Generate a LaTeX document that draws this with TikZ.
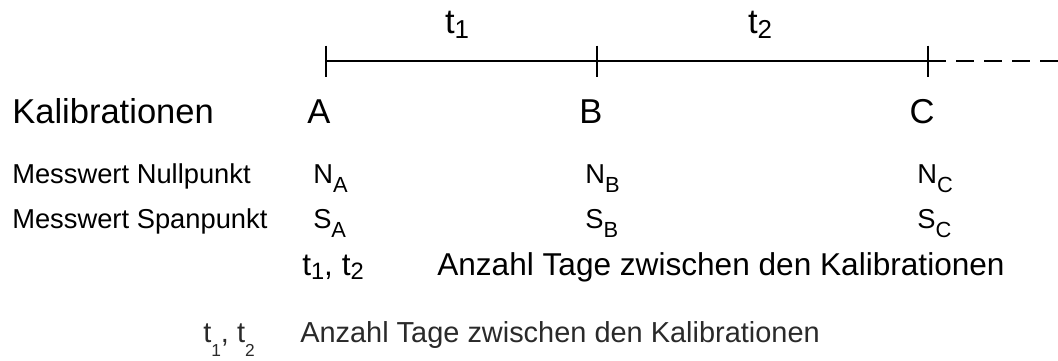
\documentclass[tikz,border=0pt]{standalone}
\usepackage{fontspec}
\setmainfont{Liberation Sans}
\usepackage{graphicx}
\usetikzlibrary{positioning}
\definecolor{inkgray}{HTML}{2A2A2A}
\newcommand{\subidx}[1]{\raisebox{-0.33em}{\scalebox{0.8}{#1}}}
\newcommand{\tidx}[1]{\raisebox{-0.15em}{\scalebox{0.75}{#1}}}
\newcommand{\lowidx}[1]{\raisebox{-0.5em}{\scalebox{0.6}{#1}}}
\tikzset{
  bigtext/.style={font=\fontsize{25.9}{31}\selectfont,inner sep=0pt,anchor=base},
  rowtext/.style={font=\fontsize{20.5}{25}\selectfont,inner sep=0pt,anchor=base west},
  notetext/.style={font=\fontsize{23.7}{28}\selectfont,inner sep=0pt,anchor=base west},
  foottext/.style={font=\fontsize{21.7}{26}\selectfont,inner sep=0pt,anchor=base west,text=inkgray},
  timeline/.style={draw=black,line width=2pt},
  futureline/.style={timeline,dash pattern=on 13.5pt off 7.5pt}
}
\begin{document}
\begin{tikzpicture}[x=0.75pt,y=-0.75pt]
  \useasboundingbox (0,0) rectangle (1058,361);
  % time axis
  \coordinate (pA) at (326,61);
  \coordinate (pB) at (597,61);
  \coordinate (pC) at (928,61);
  \coordinate (pEnd) at (1058,61);
  \draw[timeline] (pA)--(pB);
  \draw[timeline] (pB)--(pC);
  \draw[futureline] (pC)--(pEnd);
  \foreach \p in {pA,pB,pC}
    \draw[timeline] (\p) ++(0,-15.5) -- ++(0,31);
  \node[bigtext] (t1) at (457,33) {t\tidx{1}};
  \node[bigtext] (t2) at (760,33) {t\tidx{2}};
  % calibrations
  \node[bigtext,anchor=base west] (kal) at (12,123) {Kalibrationen};
  \node[bigtext] (calA) at (319,123) {A};
  \node[bigtext] (calB) at (591,123) {B};
  \node[bigtext] (calC) at (922,123) {C};
  % measured values
  \node[rowtext] (null) at (12,183) {Messwert Nullpunkt};
  \node[rowtext] (span) at (12,228) {Messwert Spanpunkt};
  \node[rowtext] (nA) at (313,183) {N\subidx{A}};
  \node[rowtext] (nB) at (585,183) {N\subidx{B}};
  \node[rowtext] (nC) at (917,183) {N\subidx{C}};
  \node[rowtext] (sA) at (313,228) {S\subidx{A}};
  \node[rowtext] (sB) at (585,228) {S\subidx{B}};
  \node[rowtext] (sC) at (917,228) {S\subidx{C}};
  % legend
  \node[notetext] (tt) at (302,275) {t\tidx{1}, t\tidx{2}};
  \node[notetext] (days) at (437,275) {Anzahl Tage zwischen den Kalibrationen};
  \node[foottext] (ttfoot) at (203,342) {t\lowidx{1}, t\lowidx{2}};
  \node[foottext] (daysfoot) at (300,342) {Anzahl Tage zwischen den Kalibrationen};
\end{tikzpicture}
\end{document}
